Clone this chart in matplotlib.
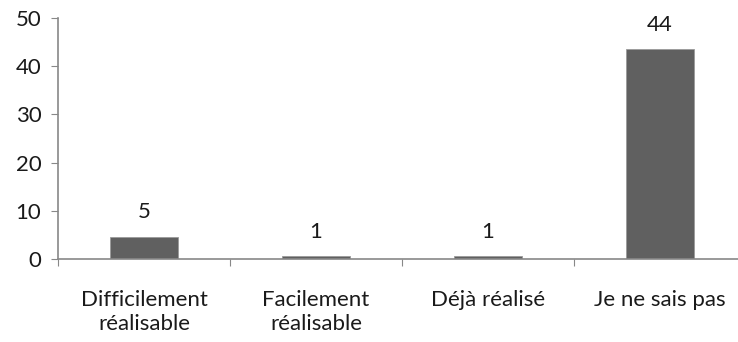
import matplotlib
matplotlib.use('Agg')
import matplotlib.pyplot as plt
import numpy as np

# donnees
categories = ['Difficilement\nréalisable', 'Facilement\nréalisable', 'Déjà réalisé', 'Je ne sais pas']
valeurs = [4.6, 0.6, 0.6, 43.5]
etiquettes = ['5', '1', '1', '44']

plt.rcParams['font.family'] = ['Lato', 'DejaVu Sans']
fs = 16

fig = plt.figure(figsize=(7.38, 3.42), dpi=100)
ax = fig.add_axes([58/738, 83/342, 688/738, 241/342])

x = np.arange(len(categories))
bars = ax.bar(x, valeurs, width=0.39, color='#606060', edgecolor='#9a9a9a', linewidth=0.6)
for b, lab in zip(bars, etiquettes):
    ax.text(b.get_x() + b.get_width()/2, b.get_height() + 3.0, lab,
            ha='center', va='bottom', fontsize=fs, color='#1a1a1a')

ax.set_xlim(-0.5, len(categories) - 0.5)
ax.set_ylim(0, 50)
ax.set_yticks([0, 10, 20, 30, 40, 50])
ax.set_xticks(np.arange(len(categories) + 1) - 0.5, minor=False)
ax.set_xticklabels([])
ax.set_xticks(x, minor=True)
ax.set_xticklabels(categories, minor=True, fontsize=fs, color='#1a1a1a', linespacing=1.3)
ax.tick_params(axis='x', which='minor', length=0, pad=22)
ax.tick_params(axis='x', which='major', length=5, color='#888888')
ax.tick_params(axis='y', length=5, color='#888888', labelsize=fs, labelcolor='#1a1a1a', pad=7)

for s in ['top', 'right']:
    ax.spines[s].set_visible(False)
for s in ['left', 'bottom']:
    ax.spines[s].set_color('#888888')
    ax.spines[s].set_linewidth(1.2)

fig.savefig('out.png', dpi=100)
